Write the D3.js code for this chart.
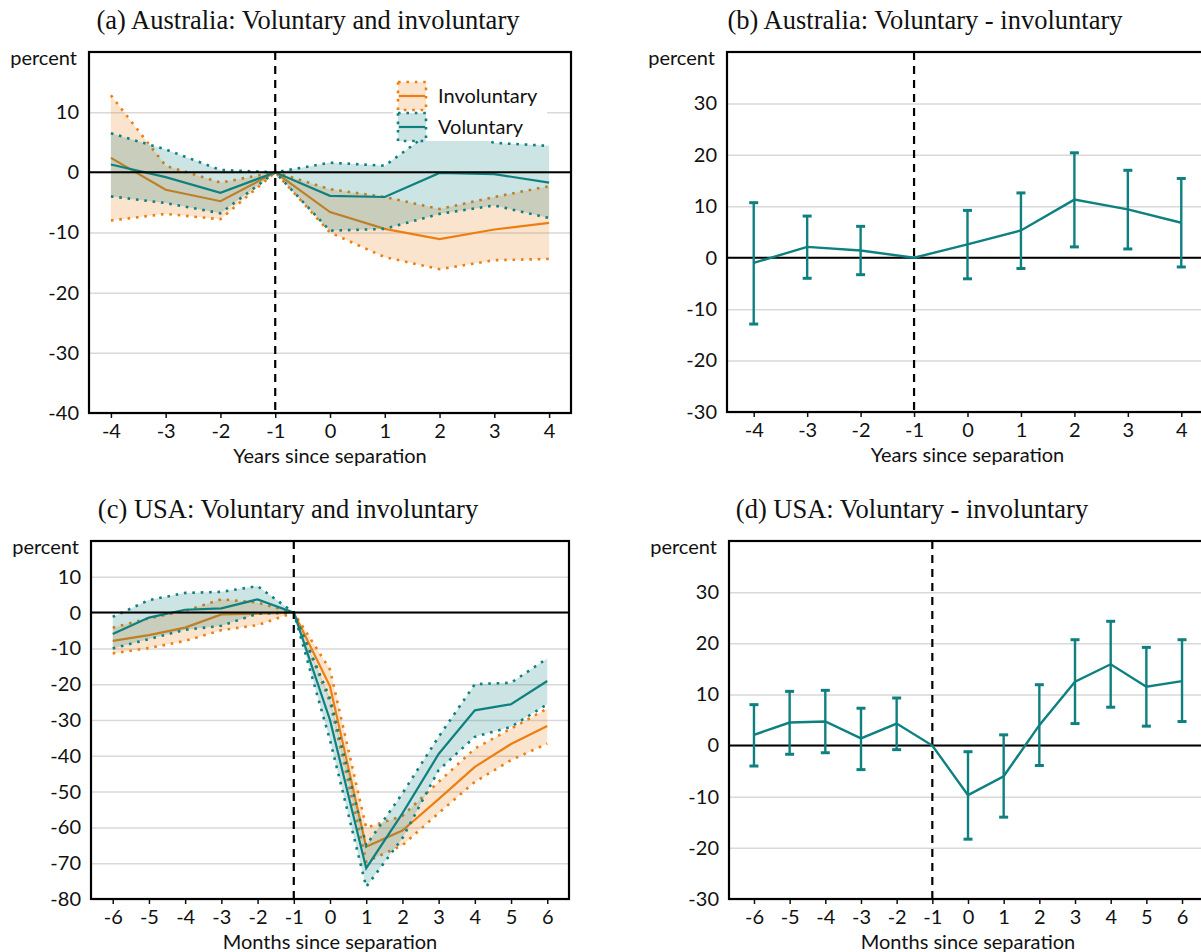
<!DOCTYPE html>
<html lang="en">
  <head>
    <meta charset="UTF-8" />
    <title>Voluntary and involuntary separations</title>
    <script src="https://d3js.org/d3.v7.min.js"></script>
  </head>
  <style>
    body {
      margin: 0;
      background: white;
    }
    svg {
      display: block;
    }
    .title {
      font-family: "Liberation Serif", "DejaVu Serif", serif;
      font-size: 26.5px;
      fill: #111;
    }
    .tick text,
    .lab {
      font-family: Lato, "Open Sans", sans-serif;
      font-size: 20px;
      fill: #111;
    }
  </style>
  <body>
    <div id="viz"></div>
    <script>
      // panel (a)/(b): years since separation, Australia
      var yearsAU = [-4, -3, -2, -1, 0, 1, 2, 3, 4];
      var auInvol = [2.4, -2.9, -4.8, 0, -6.6, -9.4, -11.1, -9.5, -8.4];
      var auInvolLo = [-8.0, -6.9, -7.8, 0, -10.0, -14.1, -16.1, -14.6, -14.4];
      var auInvolHi = [12.8, 1.1, -1.7, 0, -2.8, -4.1, -6.1, -4.1, -2.3];
      var auVol = [1.3, -0.8, -3.4, 0, -3.9, -4.1, -0.1, -0.3, -1.7];
      var auVolLo = [-4.0, -5.1, -6.8, 0, -9.7, -9.4, -6.9, -5.5, -7.6];
      var auVolHi = [6.5, 3.8, 0.4, 0, 1.6, 1.1, 7.8, 4.9, 4.4];
      var auDiff = [-1.0, 2.1, 1.4, 0, 2.6, 5.3, 11.3, 9.4, 6.8];
      var auDiffLo = [-12.9, -4.0, -3.3, null, -4.1, -2.1, 2.1, 1.7, -1.8];
      var auDiffHi = [10.7, 8.1, 6.1, null, 9.2, 12.6, 20.4, 17.0, 15.4];

      // panel (c)/(d): months since separation, USA
      var monthsUS = [-6, -5, -4, -3, -2, -1, 0, 1, 2, 3, 4, 5, 6];
      var usInvol = [-7.9, -6.3, -4.2, -0.5, -0.3, 0, -20.6, -65.4, -60.9, -52.1, -43.1, -36.7, -31.7];
      var usInvolLo = [-11.4, -9.9, -7.9, -4.9, -3.5, 0, -25.0, -69.6, -65.0, -56.0, -47.3, -41.2, -36.6];
      var usInvolHi = [-4.2, -1.6, 0.5, 3.7, 2.8, 0, -15.9, -60.1, -56.8, -47.3, -38.0, -32.4, -26.8];
      var usVol = [-6.0, -1.4, 0.8, 1.2, 3.7, 0, -30.0, -71.4, -56.1, -39.5, -27.3, -25.6, -19.1];
      var usVolLo = [-10.0, -7.4, -4.8, -3.7, -0.3, 0, -35.6, -76.6, -63.0, -44.0, -34.7, -31.9, -25.6];
      var usVolHi = [-1.2, 3.5, 5.5, 5.8, 7.4, 0, -24.0, -65.0, -50.5, -34.7, -20.0, -19.6, -12.8];
      var usDiff = [2.1, 4.5, 4.7, 1.4, 4.3, 0, -9.7, -6.0, 4.0, 12.5, 15.9, 11.5, 12.6];
      var usDiffLo = [-4.0, -1.7, -1.4, -4.7, -0.8, null, -18.3, -14.0, -3.9, 4.3, 7.5, 3.8, 4.7];
      var usDiffHi = [8.0, 10.6, 10.8, 7.3, 9.3, null, -1.2, 2.1, 11.9, 20.7, 24.3, 19.2, 20.7];

      var ticksA = [10, 0, -10, -20, -30, -40];
      var ticksB = [30, 20, 10, 0, -10, -20, -30];
      var ticksC = [10, 0, -10, -20, -30, -40, -50, -60, -70, -80];

      var orange = "#ed7f12";
      var teal = "#0f8080";

      var svg = d3
        .select("#viz")
        .append("svg")
        .attr("width", 1201)
        .attr("height", 952);

      function frame(o) {
        var x = d3.scaleLinear().domain(o.xDomain).range([o.left, o.right]);
        var y = d3.scaleLinear().domain(o.yDomain).range([o.bottom, o.top]);
        var g = svg.append("g");

        // y axis with grid lines
        var ya = g
          .append("g")
          .attr("transform", "translate(" + o.left + ",0)")
          .call(
            d3
              .axisLeft(y)
              .tickValues(o.yTicks)
              .tickSize(-(o.right - o.left))
              .tickPadding(10)
              .tickFormat(function (d) {
                return String(d);
              })
          );
        ya.select(".domain").remove();
        ya.selectAll(".tick line")
          .attr("stroke", "#d9d9d9")
          .attr("stroke-width", 1.5);

        var xa = g
          .append("g")
          .attr("transform", "translate(0," + o.bottom + ")")
          .call(
            d3
              .axisBottom(x)
              .tickValues(o.xTicks)
              .tickSize(5)
              .tickPadding(6)
              .tickFormat(function (d) {
                return String(d);
              })
          );
        xa.select(".domain").remove();
        xa.selectAll(".tick line")
          .attr("stroke", "#111")
          .attr("stroke-width", 1.5);

        g.append("text")
          .attr("class", "lab")
          .attr("x", o.left - 12)
          .attr("y", o.top + 13)
          .attr("text-anchor", "end")
          .text("percent");

        g.append("text")
          .attr("class", "lab")
          .attr("x", (o.left + o.right) / 2)
          .attr("y", o.bottom + 50)
          .attr("text-anchor", "middle")
          .text(o.xTitle);

        g.append("text")
          .attr("class", "title")
          .attr("x", o.titleX)
          .attr("y", o.top - 23)
          .attr("text-anchor", "middle")
          .text(o.title);

        var plot = g.append("g");

        // zero line and separation marker
        g.append("line")
          .attr("x1", o.left)
          .attr("x2", o.right)
          .attr("y1", y(0))
          .attr("y2", y(0))
          .attr("stroke", "#000")
          .attr("stroke-width", 2);

        g.append("line")
          .attr("x1", x(-1))
          .attr("x2", x(-1))
          .attr("y1", o.top)
          .attr("y2", o.bottom)
          .attr("stroke", "#000")
          .attr("stroke-width", 2.2)
          .attr("stroke-dasharray", "8,6");

        var top = g.append("g");

        g.append("rect")
          .attr("x", o.left)
          .attr("y", o.top)
          .attr("width", o.right - o.left)
          .attr("height", o.bottom - o.top)
          .attr("fill", "none")
          .attr("stroke", "#000")
          .attr("stroke-width", 2.2);

        return { x: x, y: y, plot: plot, top: top, g: g };
      }

      function band(p, xs, mid, lo, hi, color) {
        var rows = xs.map(function (d, i) {
          return { x: d, m: mid[i], lo: lo[i], hi: hi[i] };
        });
        var area = d3
          .area()
          .x(function (d) {
            return p.x(d.x);
          })
          .y0(function (d) {
            return p.y(d.lo);
          })
          .y1(function (d) {
            return p.y(d.hi);
          });
        p.plot
          .append("path")
          .datum(rows)
          .attr("d", area)
          .attr("fill", color)
          .attr("fill-opacity", 0.21);
        ["lo", "hi"].forEach(function (k) {
          p.plot
            .append("path")
            .datum(rows)
            .attr(
              "d",
              d3
                .line()
                .x(function (d) {
                  return p.x(d.x);
                })
                .y(function (d) {
                  return p.y(d[k]);
                })
            )
            .attr("fill", "none")
            .attr("stroke", color)
            .attr("stroke-width", 2.6)
            .attr("stroke-dasharray", "2.6,5.8");
        });
        p.plot
          .append("path")
          .datum(rows)
          .attr(
            "d",
            d3
              .line()
              .x(function (d) {
                return p.x(d.x);
              })
              .y(function (d) {
                return p.y(d.m);
              })
          )
          .attr("fill", "none")
          .attr("stroke", color)
          .attr("stroke-width", 2.2);
      }

      function errorBars(p, xs, mid, lo, hi) {
        var rows = xs.map(function (d, i) {
          return { x: d, m: mid[i], lo: lo[i], hi: hi[i] };
        });
        p.top
          .append("path")
          .datum(rows)
          .attr(
            "d",
            d3
              .line()
              .x(function (d) {
                return p.x(d.x);
              })
              .y(function (d) {
                return p.y(d.m);
              })
          )
          .attr("fill", "none")
          .attr("stroke", teal)
          .attr("stroke-width", 2.4);
        var bars = p.top
          .selectAll("g.bar")
          .data(
            rows.filter(function (d) {
              return d.lo !== null;
            })
          )
          .join("g")
          .attr("class", "bar")
          .attr("stroke", teal)
          .attr("stroke-width", 2.4);
        bars
          .append("line")
          .attr("x1", function (d) {
            return p.x(d.x);
          })
          .attr("x2", function (d) {
            return p.x(d.x);
          })
          .attr("y1", function (d) {
            return p.y(d.lo);
          })
          .attr("y2", function (d) {
            return p.y(d.hi);
          });
        ["lo", "hi"].forEach(function (k) {
          bars
            .append("line")
            .attr("x1", function (d) {
              return p.x(d.x) - 4.5;
            })
            .attr("x2", function (d) {
              return p.x(d.x) + 4.5;
            })
            .attr("y1", function (d) {
              return p.y(d[k]);
            })
            .attr("y2", function (d) {
              return p.y(d[k]);
            })
            .attr("stroke-width", 3);
        });
      }

      // (a)
      var pa = frame({
        left: 89, right: 571, top: 52, bottom: 413,
        xDomain: [-4.4, 4.4], yDomain: [-40, 20],
        xTicks: yearsAU, yTicks: ticksA,
        xTitle: "Years since separation",
        title: "(a) Australia: Voluntary and involuntary", titleX: 308
      });
      band(pa, yearsAU, auInvol, auInvolLo, auInvolHi, orange);
      band(pa, yearsAU, auVol, auVolLo, auVolHi, teal);

      // legend
      var lg = pa.top.append("g");
      lg.append("rect")
        .attr("x", 393).attr("y", 78).attr("width", 154).attr("height", 63)
        .attr("fill", "white");
      [
        { name: "Involuntary", c: orange },
        { name: "Voluntary", c: teal }
      ].forEach(function (d, i) {
        var y0 = 82 + i * 31;
        lg.append("rect")
          .attr("x", 398).attr("y", y0).attr("width", 28).attr("height", 28)
          .attr("fill", d.c).attr("fill-opacity", 0.21)
          .attr("stroke", d.c).attr("stroke-width", 2.6)
          .attr("stroke-dasharray", "2.6,5.8");
        lg.append("line")
          .attr("x1", 399).attr("x2", 425)
          .attr("y1", y0 + 14).attr("y2", y0 + 14)
          .attr("stroke", d.c).attr("stroke-width", 2.2);
        lg.append("text")
          .attr("class", "lab")
          .attr("x", 438).attr("y", y0 + 21)
          .text(d.name);
      });

      // (b)
      var pb = frame({
        left: 727, right: 1208, top: 52, bottom: 412,
        xDomain: [-4.5, 4.5], yDomain: [-30, 40],
        xTicks: yearsAU, yTicks: ticksB,
        xTitle: "Years since separation",
        title: "(b) Australia: Voluntary - involuntary", titleX: 925
      });
      errorBars(pb, yearsAU, auDiff, auDiffLo, auDiffHi);

      // (c)
      var pc = frame({
        left: 91, right: 569, top: 541, bottom: 899,
        xDomain: [-6.6, 6.6], yDomain: [-80, 20],
        xTicks: monthsUS, yTicks: ticksC,
        xTitle: "Months since separation",
        title: "(c) USA: Voluntary and involuntary", titleX: 288
      });
      band(pc, monthsUS, usInvol, usInvolLo, usInvolHi, orange);
      band(pc, monthsUS, usVol, usVolLo, usVolHi, teal);

      // (d)
      var pd = frame({
        left: 729, right: 1207, top: 541, bottom: 899,
        xDomain: [-6.7, 6.7], yDomain: [-30, 40],
        xTicks: monthsUS, yTicks: ticksB,
        xTitle: "Months since separation",
        title: "(d) USA: Voluntary - involuntary", titleX: 912
      });
      errorBars(pd, monthsUS, usDiff, usDiffLo, usDiffHi);
    </script>
  </body>
</html>
